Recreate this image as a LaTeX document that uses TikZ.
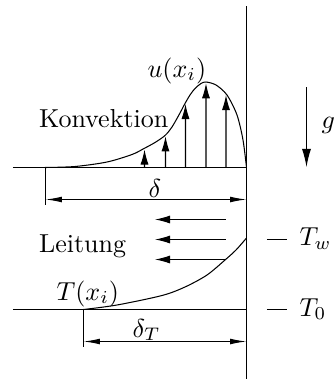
\documentclass[tikz,border=0pt]{standalone}
\usetikzlibrary{arrows.meta,intersections}
\begin{document}
\begin{tikzpicture}[x=0.3846pt,y=-0.3846pt,line width=0.4pt,
  vel/.style={-{Latex[length=5.8pt,width=3.1pt]}},
  grav/.style={-{Latex[length=7pt,width=3.5pt]}},
  dimline/.style={{Latex[length=6.3pt,width=2.2pt]}-{Latex[length=6.3pt,width=2.2pt]}},
  lbl/.style={inner sep=0pt,anchor=base west}]
\useasboundingbox (0,0) rectangle (334,379);
% wall
\coordinate (wallT) at (246.5,6);
\coordinate (wallB) at (246.5,379);
\draw (wallT) -- (wallB);
% base lines
\coordinate (b1L) at (13,167.5);
\coordinate (b1R) at (246.5,167.5);
\draw (b1L) -- (b1R);
\coordinate (b2L) at (13,309.5);
\coordinate (b2R) at (246.5,309.5);
\draw (b2L) -- (b2R);
% velocity profile
\draw[name path=uprof] plot[smooth] coordinates {(45,167.5) (75,166.5) (107,162) (132,154.5) (144,148.5) (155,142.5) (165,135.5) (172,127) (180,113) (185,103.5) (190,95) (195,88.5) (201,83.5) (206,82) (216,85) (227,95) (237,115) (243,140) (246.5,167.5)};
% velocity arrows
\foreach \xx [count=\k] in {144.5,165.5,185.5,206,226} {
  \coordinate (vb\k) at (\xx,167.5);
  \path[name path=vl\k] (\xx,167.5) -- (\xx,40);
  \path[name intersections={of=uprof and vl\k, by={vt\k}}];
  \draw[vel,shorten >=0.5pt] (vb\k) -- (vt\k);
}
% delta dimension
\coordinate (d1a) at (45.5,167.5);
\coordinate (d1b) at (45.5,205);
\draw (d1a) -- (d1b);
\coordinate (d1L) at (45.5,199.5);
\coordinate (d1R) at (246.5,199.5);
\draw[dimline] (d1L) -- (d1R);
\node[inner sep=0pt,anchor=base] (delta) at (155,197) {$\delta$};
% labels
\node[lbl] (uxi) at (147,77) {$u(x_i)$};
\node[lbl] (konv) at (38.5,127) {Konvektion};
\node[lbl] (leit) at (38.5,252.5) {Leitung};
% gravity
\coordinate (gT) at (306.5,87);
\coordinate (gB) at (306.5,167);
\draw[grav] (gT) -- (gB);
\node[lbl] (g) at (321,128) {$g$};
% conduction arrows
\foreach \yy [count=\k] in {219.5,239.5,259.5} {
  \coordinate (ca\k) at (226,\yy);
  \coordinate (cb\k) at (155,\yy);
  \draw[vel] (ca\k) -- (cb\k);
}
% temperature profile
\draw plot[smooth] coordinates {(246.5,238) (236,250) (225,260) (207,275) (185,287) (162,295.5) (117,305) (83.5,309.5)};
\node[lbl] (Txi) at (56,300) {$T(x_i)$};
% delta_T dimension
\coordinate (d2a) at (83.5,309.5);
\coordinate (d2b) at (83.5,347);
\draw (d2a) -- (d2b);
\coordinate (d2L) at (83.5,341.5);
\coordinate (d2R) at (246.5,341.5);
\draw[dimline] (d2L) -- (d2R);
\node[lbl] (deltaT) at (132,337) {$\delta_T$};
% T_w, T_0 marks
\coordinate (tw1) at (267,239.5);
\coordinate (tw2) at (287,239.5);
\draw (tw1) -- (tw2);
\node[lbl] (Tw) at (299,245.5) {$T_w$};
\coordinate (t01) at (267,309.5);
\coordinate (t02) at (287,309.5);
\draw (t01) -- (t02);
\node[lbl] (T0) at (299,316) {$T_0$};
\end{tikzpicture}
\end{document}
